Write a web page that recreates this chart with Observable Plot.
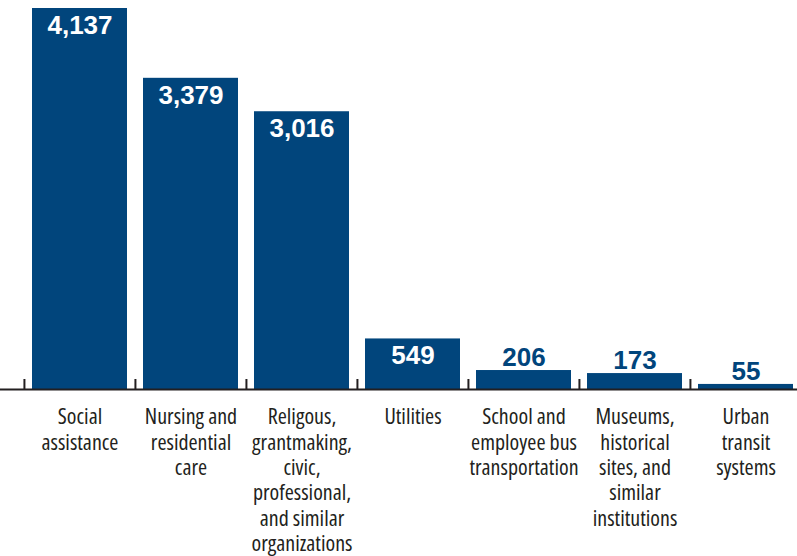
<!DOCTYPE html>
<html>
<head>
<meta charset="utf-8">
<script src="https://cdn.jsdelivr.net/npm/d3@7"></script>
<script src="https://cdn.jsdelivr.net/npm/@observablehq/plot@0.6"></script>
<style>
  html, body { margin: 0; padding: 0; background: #fff; }
  #chart svg { display: block; font-stretch: condensed; }
</style>
</head>
<body>
<div id="chart"></div>
<script>
const categories = [
  "Social assistance",
  "Nursing and residential care",
  "Religous, grantmaking, civic, professional, and similar organizations",
  "Utilities",
  "School and employee bus transportation",
  "Museums, historical sites, and similar institutions",
  "Urban transit systems"
];
const categoryLabels = [
  "Social\nassistance",
  "Nursing and\nresidential\ncare",
  "Religous,\ngrantmaking,\ncivic,\nprofessional,\nand similar\norganizations",
  "Utilities",
  "School and\nemployee bus\ntransportation",
  "Museums,\nhistorical\nsites, and\nsimilar\ninstitutions",
  "Urban\ntransit\nsystems"
];
const values = [4137, 3379, 3016, 549, 206, 173, 55];

const data = categories.map((c, i) => ({category: c, label: categoryLabels[i], value: values[i]}));

const barColor = "#01457c";
const inkColor = "#231f20";
const labelFont = "'Open Sans', 'Roboto Condensed', sans-serif";
const valueFont = "'Liberation Sans', 'Arial', sans-serif";
const fmt = d3.format(",");
const insideThreshold = 500;

const chart = Plot.plot({
  width: 797,
  height: 556,
  marginTop: 0,
  marginBottom: 0,
  marginLeft: 0,
  marginRight: 0,
  style: {fontFamily: labelFont, background: "#fff", fontStretch: "condensed"},
  x: {domain: categories, range: [23, 801], padding: 0, axis: null},
  y: {domain: [0, 4137], range: [389, 8], axis: null},
  marks: [
    Plot.barY(data, {x: "category", y: "value", fill: barColor, insetLeft: 8, insetRight: 8}),
    Plot.ruleY([0], {stroke: inkColor, strokeWidth: 2}),
    Plot.ruleX(data, {x: "category", y1: 0, y2: 0, insetTop: -10, dx: -55.57, stroke: inkColor, strokeWidth: 2}),
    Plot.text(data.filter(d => d.value >= insideThreshold), {
      x: "category", y: "value", text: d => fmt(d.value),
      fill: "#fff", fontSize: 26, fontWeight: "bold", fontFamily: valueFont,
      lineAnchor: "top", dy: 7
    }),
    Plot.text(data.filter(d => d.value < insideThreshold), {
      x: "category", y: "value", text: d => fmt(d.value),
      fill: barColor, fontSize: 26, fontWeight: "bold", fontFamily: valueFont,
      lineAnchor: "bottom", dy: -4.5
    }),
    Plot.text(data, {
      x: "category", y: 0, text: "label",
      fill: inkColor, fontSize: 22, fontFamily: labelFont,
      lineAnchor: "top", lineHeight: 1.15, dy: 17
    })
  ]
});
document.getElementById("chart").appendChild(chart);
</script>
</body>
</html>
